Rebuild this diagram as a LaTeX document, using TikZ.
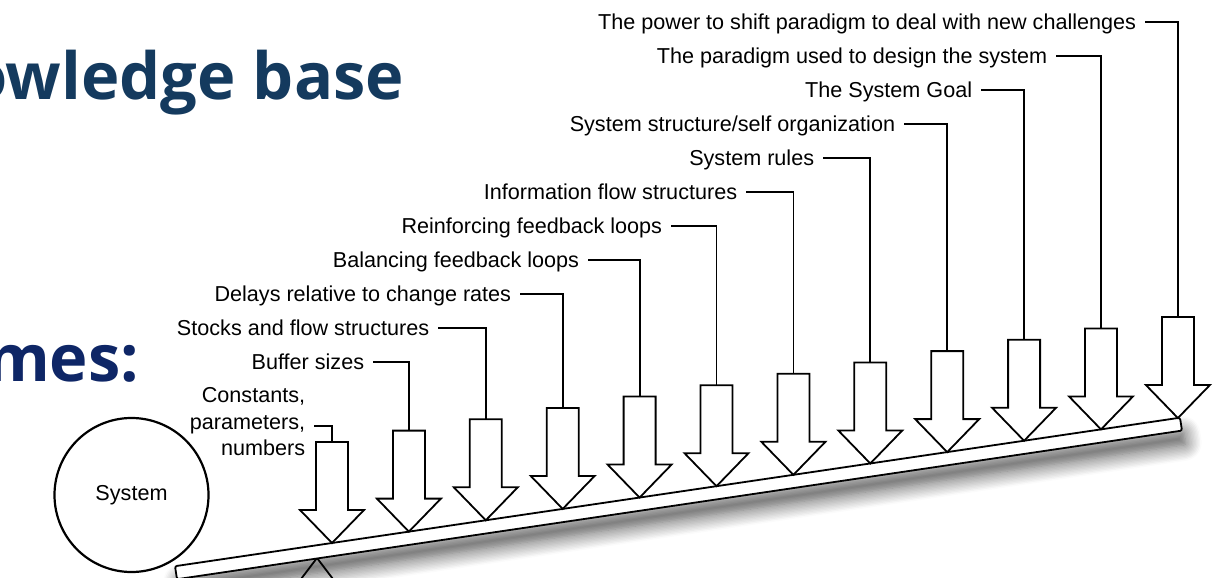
\documentclass[tikz,border=0pt]{standalone}
\usepackage{fontspec}
\setmainfont{Liberation Sans}
\newfontfamily\headfont{Open Sans}
\usetikzlibrary{shadows.blur}

\definecolor{kbblue}{RGB}{20,58,94}
\definecolor{outblue}{RGB}{14,38,102}

\tikzset{
  lbl/.style={inner sep=0pt, text height=0.72em, text depth=0pt,
    font=\fontsize{10.8}{13.25}\selectfont},
  multilbl/.style={inner sep=0pt, align=right,
    font=\fontsize{10.8}{13.25}\selectfont},
  head/.style={inner sep=0pt, anchor=base east,
    font=\headfont\bfseries\fontsize{32.5}{36}\selectfont},
  push/.style={draw, fill=white, line join=miter},
}

\begin{document}
\begin{tikzpicture}[x=0.5pt, y=-0.5pt, line width=0.9pt]
    \useasboundingbox (0,0) rectangle (1223,578);
    \clip (0,0) rectangle (1223,578);

    \node[head, text=kbblue] (kb) at (405,99) {owledge base};
    \node[head, text=outblue] (ms) at (140,381) {mes:};

    \node[circle, draw, line width=1.1pt, minimum size=77pt, inner sep=0pt,
      font=\fontsize{10.8}{13}\selectfont] (sys) at (131.5,495) {System};

    % fulcrum and lever
    \draw (285,600) -- (317,558) -- (349,600);
    \draw[fill=white, rounded corners=1pt,
      blur shadow={shadow xshift=2pt, shadow yshift=-7pt,
        shadow blur radius=8pt, shadow blur steps=12, shadow opacity=70}]
      (175,566.2) -- (1180,417.7) -- (1182,430.6) -- (177,579.2) -- cycle;

    % leverage arrows
    \foreach \i in {1,...,12} {
      \pgfmathsetmacro\cx{332+76.9*(\i-1)}
      \pgfmathsetmacro\ty{543-11.36*(\i-1)}
      \draw[push] (\cx-16,\ty-101) -- (\cx+16,\ty-101) -- (\cx+16,\ty-33)
        -- (\cx+32,\ty-33) -- (\cx,\ty) -- (\cx-32,\ty-33)
        -- (\cx-16,\ty-33) -- cycle;
      \coordinate (t\i) at (\cx,\ty-101);
    }

    \node[multilbl, anchor=east] (l1) at (306,422) {Constants,\\parameters,\\numbers};
    \node[lbl, anchor=east] (l2) at (365,362) {Buffer sizes};
    \node[lbl, anchor=east] (l3) at (430,328) {Stocks and flow structures};
    \node[lbl, anchor=east] (l4) at (512,294) {Delays relative to change rates};
    \node[lbl, anchor=east] (l5) at (580,260) {Balancing feedback loops};
    \node[lbl, anchor=east] (l6) at (663,226) {Reinforcing feedback loops};
    \node[lbl, anchor=east] (l7) at (738,192) {Information flow structures};
    \node[lbl, anchor=east] (l8) at (815,158) {System rules};
    \node[lbl, anchor=east] (l9) at (896,124) {System structure/self organization};
    \node[lbl, anchor=east] (l10) at (973,90) {The System Goal};
    \node[lbl, anchor=east] (l11) at (1048,56) {The paradigm used to design the system};
    \node[lbl, anchor=east] (l12) at (1137,22) {The power to shift paradigm to deal with new challenges};

    \draw ([xshift=4pt]l1.east) ++(0,4) -| (t1);
    \foreach \i in {2,...,12}
      \draw ([xshift=4pt]l\i.east) -| (t\i);
\end{tikzpicture}
\end{document}
